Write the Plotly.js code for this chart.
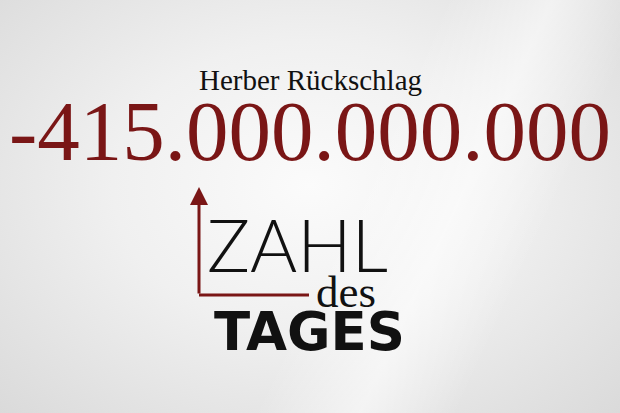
<!DOCTYPE html>
<html>
<head>
<meta charset="utf-8">
<script src="https://cdn.plot.ly/plotly-3.0.1.min.js"></script>
<style>
  html, body { margin:0; padding:0; }
  body {
    width:620px; height:413px; overflow:hidden;
    background:
      linear-gradient(115deg, rgba(255,255,255,0) 55%, rgba(255,255,255,0.55) 68%, rgba(255,255,255,0) 80%),
      radial-gradient(ellipse at 50% 45%, #fbfbfb 0%, #f0f0f0 45%, #dadada 100%);
  }
  #chart { width:620px; height:413px; }
</style>
</head>
<body>
<div id="chart"></div>
<script>
// Zahl des Tages - Kennzahl und Überschrift
const headline = ['Herber Rückschlag'];
const values = [-415000000000];
const labelWords = ['ZAHL', 'des', 'TAGES'];

const RED = '#7a1616';

function formatDE(v){
  const sign = v < 0 ? '-' : '';
  const s = String(Math.abs(v)).replace(/\B(?=(\d{3})+(?!\d))/g, '.');
  return sign + s;
}

const annotations = [
  {x:310, y:80, text:headline[0], showarrow:false, xanchor:'center', yanchor:'middle',
   font:{family:'Liberation Serif, serif', size:29, color:'#111'}},
  {x:310, y:131, text:formatDE(values[0]), showarrow:false, xanchor:'center', yanchor:'middle',
   font:{family:'Liberation Serif, serif', size:85, color:RED}},
  {x:297, y:244, text:labelWords[0], showarrow:false, xanchor:'center', yanchor:'middle',
   font:{family:'Lato, sans-serif', size:72, color:'#111', weight:300}},
  {x:346, y:292, text:labelWords[1], showarrow:false, xanchor:'center', yanchor:'middle',
   font:{family:'Liberation Serif, serif', size:45, color:'#111'}},
  {x:309, y:331, text:labelWords[2], showarrow:false, xanchor:'center', yanchor:'middle',
   font:{family:'DejaVu Sans, sans-serif', size:53, color:'#111', weight:700}},
  // Pfeil nach oben
  {x:199, y:187, ax:199, ay:295, axref:'x', ayref:'y', text:'', showarrow:true,
   arrowhead:2, arrowsize:1.2, arrowwidth:3, arrowcolor:RED, standoff:0}
];

const shapes = [
  {type:'line', xref:'x', yref:'y', x0:199, y0:295, x1:309, y1:295,
   line:{color:RED, width:3}}
];

Plotly.newPlot('chart', [], {
  width:620, height:413,
  margin:{t:0,r:0,l:0,b:0},
  paper_bgcolor:'rgba(0,0,0,0)',
  plot_bgcolor:'rgba(0,0,0,0)',
  xaxis:{range:[0,620], visible:false, fixedrange:true},
  yaxis:{range:[413,0], visible:false, fixedrange:true},
  showlegend:false,
  annotations:annotations,
  shapes:shapes
}, {staticPlot:true});
</script>
</body>
</html>
